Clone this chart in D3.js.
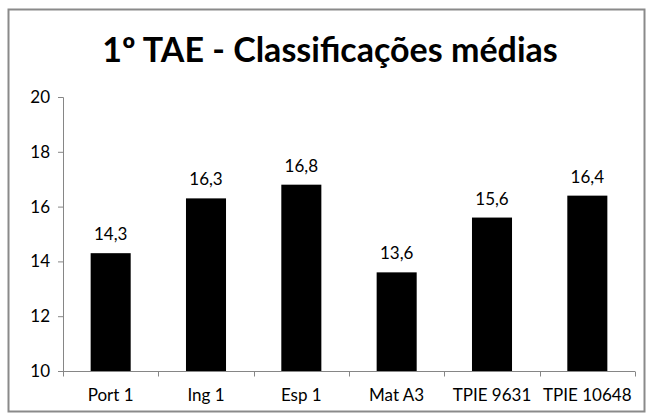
<!DOCTYPE html>
<html><head><meta charset="utf-8">
<script src="https://cdn.jsdelivr.net/npm/d3@7"></script>
<style>body{margin:0;background:#fff;} text{font-family:Lato,"Open Sans",sans-serif;}</style>
</head><body>
<svg id="c" width="649" height="417"></svg>
<script>
const categories = ["Port 1","Ing 1","Esp 1","Mat A3","TPIE 9631","TPIE 10648"];
const values = [14.3,16.3,16.8,13.6,15.6,16.4];
const yTicks = [10,12,14,16,18,20];
const title = "1º TAE - Classificações médias";

const svg = d3.select("#c");
svg.append("rect").attr("x",8.5).attr("y",9.5).attr("width",636).attr("height",402)
  .attr("fill","#fff").attr("stroke","#8a8a8a").attr("stroke-width",2);

svg.append("text").attr("x",330).attr("y",62).attr("text-anchor","middle")
  .attr("font-size",34).attr("font-weight","bold").attr("fill","#000").text(title);

const x = d3.scaleBand().domain(categories).range([63,635]).paddingInner(0.58).paddingOuter(0.29);
const y = d3.scaleLinear().domain([10,20]).range([371,97]);

const gy = svg.append("g").attr("transform","translate(63,0)")
  .call(d3.axisLeft(y).tickValues(yTicks).tickSize(5).tickPadding(8).tickFormat(d3.format("d")));
gy.select(".domain").attr("stroke","#868686").attr("d","M-5,97.5H0.5V371.5");
gy.selectAll(".tick line").attr("stroke","#868686");
gy.selectAll(".tick text").attr("font-size",17).attr("fill","#000").attr("font-family","Lato");

svg.selectAll(".bar").data(values).enter().append("rect")
  .attr("x",(d,i)=>x(categories[i])).attr("width",x.bandwidth())
  .attr("y",d=>y(d)).attr("height",d=>y(10)-y(d)).attr("fill","#000");

const gx = svg.append("g").attr("transform","translate(0,371.5)");
gx.append("line").attr("x1",63).attr("x2",635).attr("stroke","#868686");
const bounds = [0,1,2,3,4,5].map(i=>x(categories[i])-x.step()*x.paddingInner()/2).concat([635]);
gx.selectAll(".tk").data(bounds).enter().append("line")
  .attr("x1",d=>Math.round(d)+0.5).attr("x2",d=>Math.round(d)+0.5).attr("y1",0).attr("y2",5).attr("stroke","#868686");
gx.selectAll(".lb").data(categories).enter().append("text")
  .attr("x",d=>x(d)+x.bandwidth()/2).attr("y",29).attr("text-anchor","middle")
  .attr("font-size",17).attr("fill","#000").text(d=>d);

const fmt = v => d3.format(".1f")(v).replace(".",",");
svg.selectAll(".lbl").data(values).enter().append("text")
  .attr("x",(d,i)=>x(categories[i])+x.bandwidth()/2).attr("y",d=>y(d)-13)
  .attr("text-anchor","middle").attr("font-size",17).attr("fill","#000").text(fmt);
</script>
</body></html>
